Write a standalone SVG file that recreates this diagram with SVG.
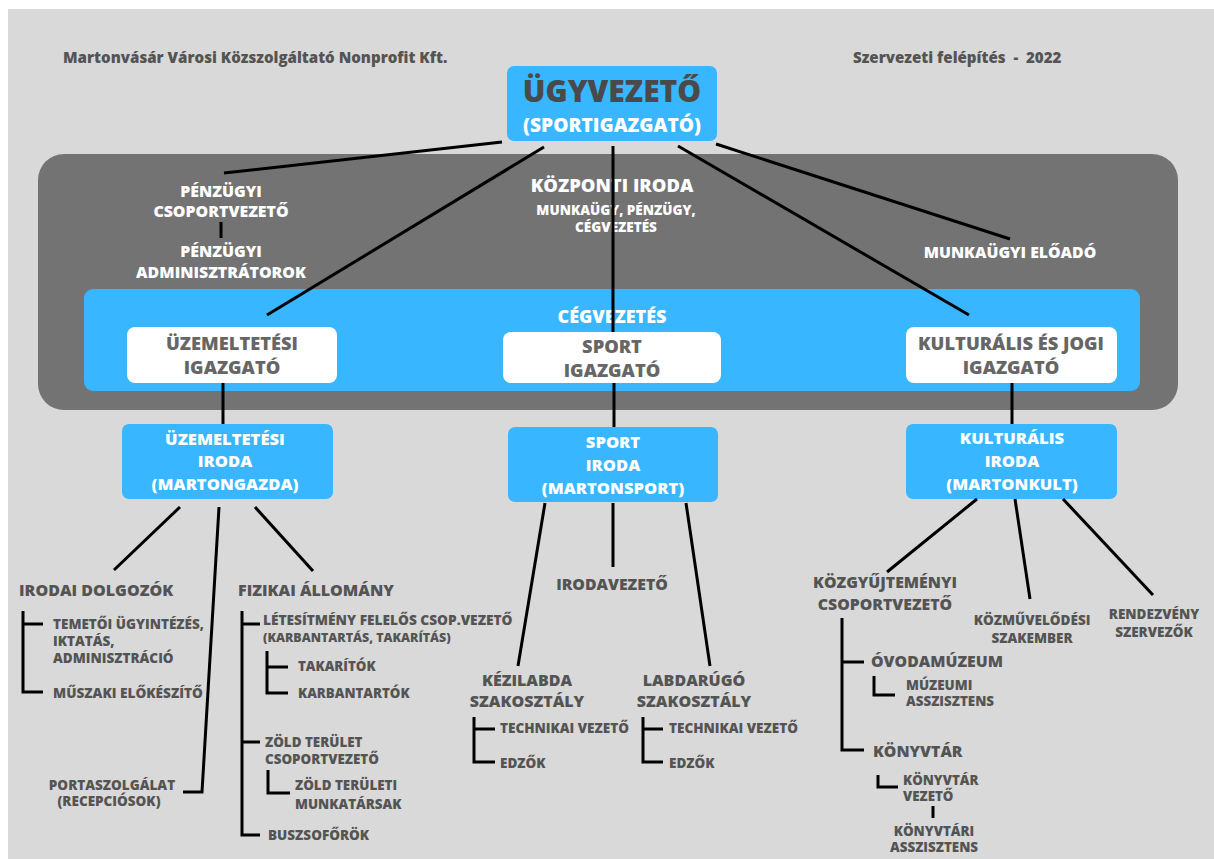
<svg xmlns="http://www.w3.org/2000/svg" width="1214" height="859" viewBox="0 0 1214 859">
<style>
text{font-family:"Open Sans","Liberation Sans",sans-serif;font-weight:800;}
.d{fill:#545454;}
.w{fill:#ffffff;}
.g{fill:#666666;}
.m{text-anchor:middle;}
.ln{stroke:#000;stroke-width:3;fill:none;stroke-linecap:butt;stroke-linejoin:miter;}
.blue{fill:#38b6ff;}
.wbox{fill:#ffffff;}
</style>
<rect x="0" y="0" width="1214" height="859" fill="#ffffff"/>
<rect x="8" y="9" width="1206" height="850" fill="#d9d9d9"/>
<g id="header">
<text class="d" x="63" y="63" font-size="15.1">Martonvásár Városi Közszolgáltató Nonprofit Kft.</text>
<text class="d" x="853" y="63" font-size="15.1" xml:space="preserve">Szervezeti felépítés  -  2022</text>
</g>
<g id="kozponti-iroda">
<rect x="38" y="154" width="1140" height="256" rx="26" fill="#737373"/>
<text class="w m" x="612" y="192" font-size="18.4">KÖZPONTI IRODA</text>
<text class="w m" x="616" y="215" font-size="13.5">MUNKAÜGY, PÉNZÜGY,</text>
<text class="w m" x="616" y="232" font-size="13.5">CÉGVEZETÉS</text>
</g>
<g id="penzugyi-csoportvezeto">
<text class="w m" x="221" y="197" font-size="15.9">PÉNZÜGYI</text>
<text class="w m" x="221" y="217" font-size="15.9">CSOPORTVEZETŐ</text>
</g>
<g id="penzugyi-adminisztratorok">
<text class="w m" x="221" y="257" font-size="15.9">PÉNZÜGYI</text>
<text class="w m" x="221" y="278" font-size="15.9">ADMINISZTRÁTOROK</text>
</g>
<g id="munkaugyi-eloado">
<text class="w m" x="1010" y="258" font-size="15.8">MUNKAÜGYI ELŐADÓ</text>
</g>
<g id="cegvezetes">
<rect class="blue" x="84" y="289" width="1056" height="102" rx="9"/>
<text class="w m" x="612" y="323" font-size="18">CÉGVEZETÉS</text>
</g>
<g id="ugyvezeto">
<rect class="blue" x="507" y="66" width="210" height="75" rx="7"/>
<text class="m" x="612" y="102" font-size="30" fill="#4a4a4a">ÜGYVEZETŐ</text>
<text class="w m" x="612" y="132" font-size="19.2">(SPORTIGAZGATÓ)</text>
</g>
<g id="uzemeltetesi-igazgato">
<rect class="wbox" x="127" y="327" width="210" height="56" rx="8"/>
<text class="g m" x="232" y="350" font-size="18.3">ÜZEMELTETÉSI</text>
<text class="g m" x="232" y="374" font-size="18.3">IGAZGATÓ</text>
</g>
<g id="sport-igazgato">
<rect class="wbox" x="503" y="332" width="218" height="51" rx="8"/>
<text class="g m" x="612" y="353" font-size="18.3">SPORT</text>
<text class="g m" x="612" y="377" font-size="18.3">IGAZGATÓ</text>
</g>
<g id="kulturalis-igazgato">
<rect class="wbox" x="906" y="327" width="211" height="56" rx="8"/>
<text class="g m" x="1011" y="350" font-size="18.3">KULTURÁLIS ÉS JOGI</text>
<text class="g m" x="1011" y="374" font-size="18.3">IGAZGATÓ</text>
</g>
<g id="uzemeltetesi-iroda">
<rect class="blue" x="122" y="424" width="211" height="75" rx="7"/>
<text class="w m" x="225" y="445" font-size="16.6">ÜZEMELTETÉSI</text>
<text class="w m" x="225" y="467" font-size="16.6">IRODA</text>
<text class="w m" x="225" y="490" font-size="16.6">(MARTONGAZDA)</text>
</g>
<g id="sport-iroda">
<rect class="blue" x="508" y="427" width="210" height="75" rx="7"/>
<text class="w m" x="613" y="448" font-size="16.6">SPORT</text>
<text class="w m" x="613" y="471" font-size="16.6">IRODA</text>
<text class="w m" x="613" y="494" font-size="16.6">(MARTONSPORT)</text>
</g>
<g id="kulturalis-iroda">
<rect class="blue" x="906" y="424" width="211" height="75" rx="7"/>
<text class="w m" x="1012" y="444" font-size="16.6">KULTURÁLIS</text>
<text class="w m" x="1012" y="467" font-size="16.6">IRODA</text>
<text class="w m" x="1012" y="490" font-size="16.6">(MARTONKULT)</text>
</g>
<g id="irodai-dolgozok">
<text class="d" x="19" y="596" font-size="16">IRODAI DOLGOZÓK</text>
</g>
<g id="temetoi">
<text class="d" x="53" y="629" font-size="13.5">TEMETŐI ÜGYINTÉZÉS,</text>
<text class="d" x="53" y="646" font-size="13.5">IKTATÁS,</text>
<text class="d" x="53" y="663" font-size="13.5">ADMINISZTRÁCIÓ</text>
</g>
<g id="muszaki">
<text class="d" x="53" y="698" font-size="13.6">MŰSZAKI ELŐKÉSZÍTŐ</text>
</g>
<g id="portaszolgalat">
<text class="d m" x="112" y="790" font-size="13.5">PORTASZOLGÁLAT</text>
<text class="d m" x="109" y="806" font-size="13.5">(RECEPCIÓSOK)</text>
</g>
<g id="fizikai-allomany">
<text class="d" x="238" y="596" font-size="16">FIZIKAI ÁLLOMÁNY</text>
</g>
<g id="letesitmeny">
<text class="d" x="263" y="625" font-size="13.7">LÉTESÍTMÉNY FELELŐS CSOP.VEZETŐ</text>
<text class="d" x="263" y="642" font-size="12.4">(KARBANTARTÁS, TAKARÍTÁS)</text>
</g>
<g id="takaritok"><text class="d" x="298" y="671" font-size="13.3">TAKARÍTÓK</text></g>
<g id="karbantartok"><text class="d" x="298" y="698" font-size="13.3">KARBANTARTÓK</text></g>
<g id="zold-terulet">
<text class="d" x="265" y="747" font-size="13.4">ZÖLD TERÜLET</text>
<text class="d" x="265" y="764" font-size="13.4">CSOPORTVEZETŐ</text>
</g>
<g id="zold-munkatarsak">
<text class="d" x="295" y="790" font-size="13.4">ZÖLD TERÜLETI</text>
<text class="d" x="295" y="809" font-size="13.4">MUNKATÁRSAK</text>
</g>
<g id="buszsoforok"><text class="d" x="268" y="840" font-size="13.5">BUSZSOFŐRÖK</text></g>
<g id="irodavezeto"><text class="d m" x="612" y="590" font-size="15.8">IRODAVEZETŐ</text></g>
<g id="kezilabda">
<text class="d m" x="527" y="686" font-size="16">KÉZILABDA</text>
<text class="d m" x="527" y="707" font-size="16">SZAKOSZTÁLY</text>
</g>
<g id="kezilabda-technikai"><text class="d" x="500" y="733" font-size="13.5">TECHNIKAI VEZETŐ</text></g>
<g id="kezilabda-edzok"><text class="d" x="500" y="768" font-size="13.5">EDZŐK</text></g>
<g id="labdarugo">
<text class="d m" x="694" y="686" font-size="16">LABDARÚGÓ</text>
<text class="d m" x="694" y="707" font-size="16">SZAKOSZTÁLY</text>
</g>
<g id="labdarugo-technikai"><text class="d" x="669" y="733" font-size="13.5">TECHNIKAI VEZETŐ</text></g>
<g id="labdarugo-edzok"><text class="d" x="669" y="768" font-size="13.5">EDZŐK</text></g>
<g id="kozgyujtemenyi">
<text class="d m" x="885" y="588" font-size="15.8">KÖZGYŰJTEMÉNYI</text>
<text class="d m" x="885" y="610" font-size="15.8">CSOPORTVEZETŐ</text>
</g>
<g id="kozmuvelodesi">
<text class="d m" x="1032" y="625" font-size="13.5">KÖZMŰVELŐDÉSI</text>
<text class="d m" x="1032" y="643" font-size="13.5">SZAKEMBER</text>
</g>
<g id="rendezveny">
<text class="d m" x="1154" y="619" font-size="13.5">RENDEZVÉNY</text>
<text class="d m" x="1154" y="637" font-size="13.5">SZERVEZŐK</text>
</g>
<g id="ovodamuzeum"><text class="d" x="871" y="667" font-size="15.8">ÓVODAMÚZEUM</text></g>
<g id="muzeumi-asszisztens">
<text class="d" x="906" y="690" font-size="13.4">MÚZEUMI</text>
<text class="d" x="906" y="706" font-size="13.4">ASSZISZTENS</text>
</g>
<g id="konyvtar"><text class="d" x="873" y="757" font-size="15.8">KÖNYVTÁR</text></g>
<g id="konyvtar-vezeto">
<text class="d" x="903" y="785" font-size="13.3">KÖNYVTÁR</text>
<text class="d" x="903" y="801" font-size="13.3">VEZETŐ</text>
</g>
<g id="konyvtari-asszisztens">
<text class="d m" x="934" y="836" font-size="13.4">KÖNYVTÁRI</text>
<text class="d m" x="934" y="852" font-size="13.4">ASSZISZTENS</text>
</g>
<g id="connectors" class="ln">
<path d="M502 142 L224 173"/>
<path d="M544 147 L267 315"/>
<path d="M613 146 L613 332"/>
<path d="M678 146 L969 315"/>
<path d="M716 144 L1010 239"/>
<path d="M221 222 L221 238"/>
<path d="M223 383 L223 424"/>
<path d="M614 383 L614 427"/>
<path d="M1012 383 L1012 424"/>
<path d="M180 507 L114 570"/>
<path d="M219 507 L202 792 L183 792"/>
<path d="M255 507 L313 571"/>
<path d="M23 611 L23 692 L43 692 M23 624 L43 624"/>
<path d="M242 611 L242 835 L260 835 M242 624 L260 624 M242 742 L260 742"/>
<path d="M267 651 L267 693 L288 693 M267 667 L288 667"/>
<path d="M268 770 L268 793 L290 793"/>
<path d="M545 503 L518 666"/>
<path d="M613 503 L613 567"/>
<path d="M686 503 L710 666"/>
<path d="M474 717 L474 762 L495 762 M474 729 L495 729"/>
<path d="M643 717 L643 762 L663 762 M643 729 L663 729"/>
<path d="M977 499 L887 572"/>
<path d="M1015 499 L1030 599"/>
<path d="M1063 499 L1153 595"/>
<path d="M842 618 L842 750 L864 750 M842 662 L864 662"/>
<path d="M874 676 L874 695 L895 695"/>
<path d="M878 775 L878 787 L898 787"/>
<path d="M933 806 L933 818"/>
</g>
</svg>
